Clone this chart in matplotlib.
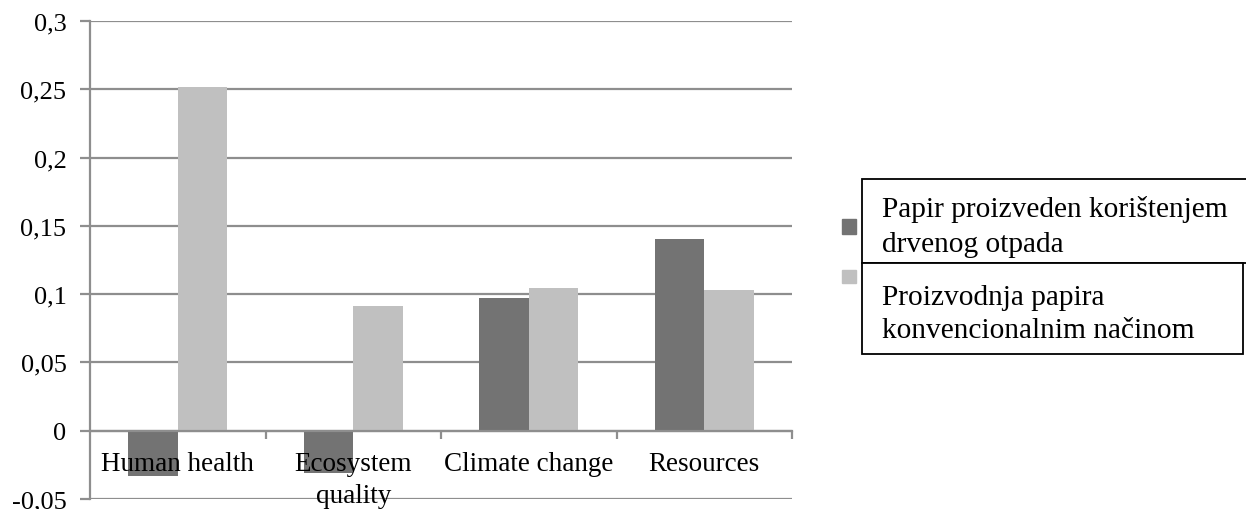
import matplotlib
matplotlib.use("Agg")
import matplotlib.pyplot as plt
import matplotlib.patches as patches
import numpy as np

# podaci
kategorije = ["Human health", "Ecosystem\nquality", "Climate change", "Resources"]
drveni_otpad = [-0.033, -0.031, 0.0975, 0.1405]
konvencionalno = [0.252, 0.0915, 0.1045, 0.103]
y_ticks = [-0.05, 0, 0.05, 0.1, 0.15, 0.2, 0.25, 0.3]
y_labels = ["-0,05", "0", "0,05", "0,1", "0,15", "0,2", "0,25", "0,3"]
legenda = ["Papir proizveden korištenjem\ndrvenog otpada",
           "Proizvodnja papira\nkonvencionalnim načinom"]

W, H = 1246, 510
serif = ["Liberation Serif", "DejaVu Serif"]
siva = "#8e8e8e"
tamna = "#737373"
svijetla = "#c0c0c0"

fig = plt.figure(figsize=(W / 100, H / 100), dpi=100)
ax = fig.add_axes([90 / W, 1 - 500 / H, (792 - 90) / W, (500 - 22) / H])

x = np.arange(len(kategorije))
sirina = 0.282
ax.bar(x - sirina / 2, drveni_otpad, sirina, color=tamna, zorder=3)
ax.bar(x + sirina / 2, konvencionalno, sirina, color=svijetla, zorder=3)

ax.set_xlim(-0.5, 3.5)
ax.set_ylim(-0.05, 0.3)
ax.set_yticks(y_ticks)
ax.set_yticklabels(y_labels, family=serif, fontsize=19)
ax.yaxis.grid(True, color=siva, linewidth=1.6, zorder=0)
ax.set_axisbelow(True)

for s in ["top", "right"]:
    ax.spines[s].set_visible(False)
ax.spines["left"].set_color(siva)
ax.spines["left"].set_linewidth(1.6)
ax.spines["bottom"].set_position(("data", 0))
ax.spines["bottom"].set_color(siva)
ax.spines["bottom"].set_linewidth(1.6)
ax.spines["bottom"].set_zorder(4)

ax.set_xticks([0.5, 1.5, 2.5, 3.5])
ax.set_xticklabels([])
ax.tick_params(axis="x", direction="out", length=6, width=1.6, color=siva)
ax.tick_params(axis="y", direction="out", length=7, width=1.6, color=siva, pad=10)

for i, k in enumerate(kategorije):
    ax.text(i, -0.0145, k, ha="center", va="top", family=serif, fontsize=19.5,
            linespacing=1.42, zorder=5)

# legenda
def fx(px):
    return px / W

def fy(py):
    return 1 - py / H

fig.patches.append(patches.Rectangle((fx(842), fy(235)), fx(14), 15 / H, color=tamna,
                                     transform=fig.transFigure, figure=fig))
fig.patches.append(patches.Rectangle((fx(842), fy(284)), fx(14), 13 / H, color=svijetla,
                                     transform=fig.transFigure, figure=fig))
fig.patches.append(patches.Rectangle((fx(862), fy(264)), fx(400), 84 / H, facecolor="white",
                                     edgecolor="black", linewidth=1.3,
                                     transform=fig.transFigure, figure=fig))
fig.patches.append(patches.Rectangle((fx(862), fy(355)), fx(1243 - 862), 91 / H,
                                     facecolor="white", edgecolor="black", linewidth=1.3,
                                     transform=fig.transFigure, figure=fig))

fig.text(fx(882), fy(217), legenda[0].split("\n")[0], family=serif, fontsize=21.2, va="baseline")
fig.text(fx(882), fy(252), legenda[0].split("\n")[1], family=serif, fontsize=21.2, va="baseline")
fig.text(fx(882), fy(305), legenda[1].split("\n")[0], family=serif, fontsize=21.2, va="baseline")
fig.text(fx(882), fy(338), legenda[1].split("\n")[1], family=serif, fontsize=21.2, va="baseline")

fig.savefig("out.png", dpi=100)
